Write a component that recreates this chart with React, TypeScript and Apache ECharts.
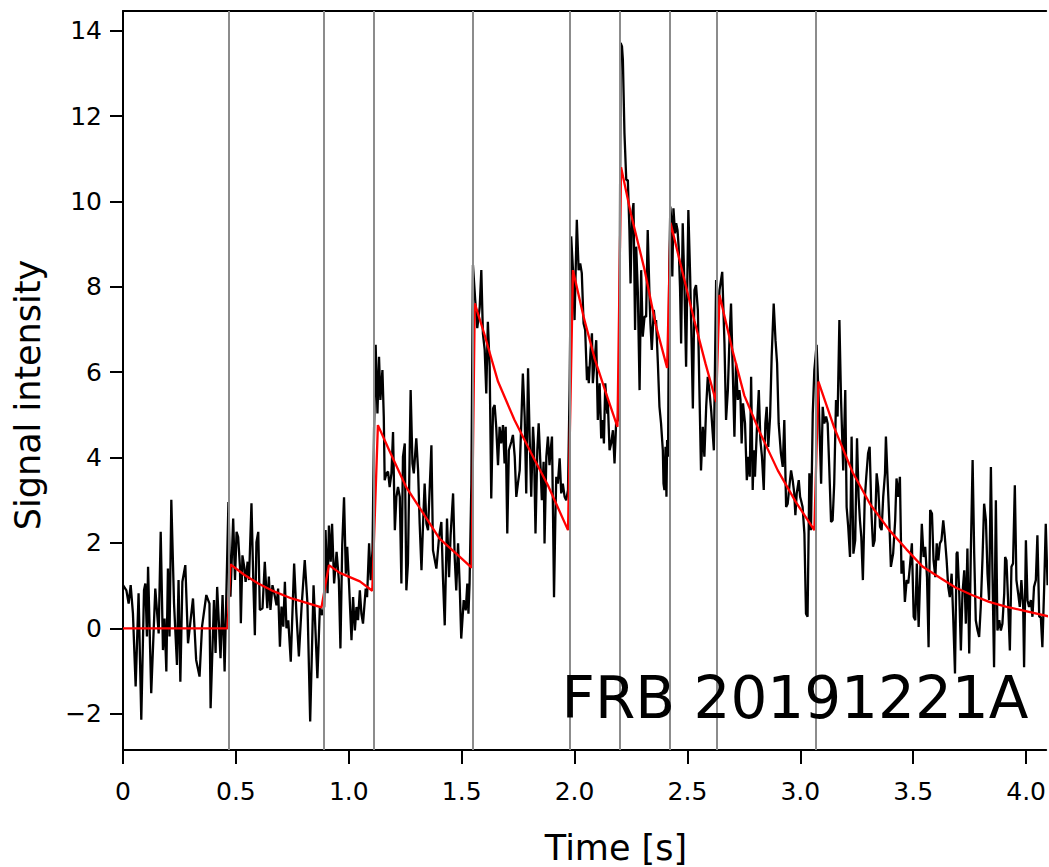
import React, { useEffect, useRef } from "react";
import * as echarts from "echarts";

// Burst (component) arrival times, s
const burstTimes = [0.465, 0.894, 1.115, 1.549, 1.982, 2.199, 2.416, 2.633, 3.071];

const xTicks = [0, 0.5, 1.0, 1.5, 2.0, 2.5, 3.0, 3.5, 4.0];
const yTicks = [-2, 0, 2, 4, 6, 8, 10, 12, 14];

// Observed signal [time s, intensity]
const signal: [number, number][] = [
  [0.000,1.01],[0.015,0.89],[0.025,0.58],[0.034,1.01],[0.044,0.35],[0.056,-1.36],[0.069,0.82],[0.081,-2.14],[0.093,0.89],[0.099,1.05],
  [0.106,-0.19],[0.111,1.44],[0.125,-1.52],[0.143,0.93],[0.158,-0.12],[0.167,2.26],[0.177,-0.51],[0.184,0.23],[0.192,-1.01],[0.199,1.40],
  [0.206,-0.19],[0.214,3.01],[0.226,0.58],[0.239,-0.86],[0.246,1.13],[0.254,-1.25],[0.263,1.09],[0.276,1.48],[0.288,-0.35],[0.310,0.70],
  [0.324,-0.74],[0.339,-1.13],[0.350,0.04],[0.369,0.78],[0.383,0.58],[0.388,-1.87],[0.403,0.66],[0.410,-0.58],[0.417,0.97],[0.432,-0.70],
  [0.441,0.78],[0.450,-1.01],[0.467,2.96],
  [0.476,0.74],[0.488,2.57],[0.496,1.13],[0.503,2.26],[0.510,2.14],[0.518,1.44],[0.522,0.12],[0.529,1.71],[0.537,1.44],[0.543,1.09],
  [0.552,1.56],[0.558,1.13],[0.569,2.93],[0.577,1.13],[0.584,-0.16],[0.591,2.02],[0.599,2.26],[0.606,0.43],[0.618,0.47],[0.628,1.56],
  [0.639,0.47],[0.646,1.21],[0.653,0.43],[0.662,1.01],[0.673,0.74],[0.680,0.54],[0.687,0.93],[0.695,-0.43],[0.702,0.51],[0.710,0.04],
  [0.717,1.09],[0.724,0.00],[0.732,0.19],[0.743,-0.78],[0.758,1.52],[0.768,0.35],[0.779,-0.66],[0.791,0.51],[0.805,1.60],[0.817,0.58],
  [0.829,-2.18],[0.844,1.01],[0.853,-0.12],[0.861,-1.17],[0.872,0.51],[0.882,0.31],[0.891,0.51],[0.897,2.30],[0.906,0.82],[0.912,2.41],
  [0.920,1.56],[0.926,2.45],[0.935,1.05],[0.946,1.79],[0.956,1.13],[0.963,-0.47],[0.971,1.95],[0.979,3.07],
  [0.987,1.28],[0.993,1.91],[1.001,1.05],[1.012,-0.28],[1.019,0.73],[1.027,-0.05],[1.034,0.50],[1.041,0.19],[1.049,0.89],[1.056,0.34],
  [1.063,0.11],[1.075,0.93],[1.081,0.73],[1.090,1.99],[1.097,1.13],[1.105,1.83],[1.112,4.64],[1.119,6.64],[1.127,5.03],[1.134,6.36],
  [1.140,5.35],[1.149,6.05],[1.155,4.96],[1.159,3.47],[1.167,3.63],[1.174,3.67],[1.181,3.31],[1.189,3.63],[1.196,4.60],[1.204,2.30],
  [1.211,3.08],[1.218,3.31],[1.226,3.08],[1.233,1.05],[1.240,4.02],[1.248,4.33],[1.255,0.89],[1.262,1.52],[1.274,5.58],[1.282,3.86],
  [1.288,3.63],[1.299,4.45],[1.307,3.70],[1.314,2.45],[1.322,1.36],[1.329,2.45],[1.336,3.39],[1.344,2.45],[1.351,2.30],[1.366,4.29],
  [1.373,1.83],[1.388,1.40],[1.400,2.14],[1.410,2.49],[1.417,1.20],[1.425,0.07],[1.435,2.57],[1.444,1.20],[1.451,2.18],[1.462,3.16],
  [1.469,1.67],[1.476,0.89],[1.484,1.99],[1.491,1.05],[1.498,-0.24],[1.509,0.66],[1.518,0.42],[1.525,1.05],[1.530,0.34],
  [1.535,1.05],[1.543,3.39],[1.550,8.51],[1.560,7.69],[1.569,7.03],[1.580,7.53],[1.587,8.39],[1.594,6.91],[1.602,6.52],[1.609,5.50],
  [1.616,7.18],[1.624,6.13],[1.631,3.04],[1.639,5.15],[1.646,5.23],[1.653,4.72],[1.661,3.82],[1.668,4.72],[1.675,4.33],[1.683,4.76],
  [1.690,3.86],[1.695,4.72],[1.702,2.22],[1.709,4.17],[1.720,4.37],[1.727,4.53],[1.735,4.02],[1.742,3.08],[1.749,3.39],[1.757,3.70],
  [1.764,4.80],[1.771,5.97],[1.779,4.96],[1.786,3.16],[1.794,6.09],[1.801,4.49],[1.808,3.08],[1.816,4.72],[1.820,4.33],[1.827,2.22],
  [1.835,4.17],[1.841,4.80],[1.850,3.70],[1.855,3.00],[1.863,3.90],[1.867,1.99],[1.875,4.02],[1.882,4.49],[1.889,3.82],[1.894,4.17],
  [1.900,4.49],[1.904,2.92],[1.909,0.73],[1.915,2.61],[1.919,3.55],[1.926,3.39],[1.934,3.98],[1.941,3.16],[1.948,3.39],[1.956,3.08],
  [1.963,3.00],[1.971,3.24],[1.978,5.58],
  [1.985,9.18],[1.993,8.39],[2.000,7.22],[2.010,9.57],[2.018,8.39],[2.025,8.55],[2.032,8.32],[2.040,7.14],[2.047,6.99],[2.055,5.81],
  [2.059,6.13],[2.063,5.74],[2.071,6.52],[2.077,6.91],[2.081,5.74],[2.088,6.21],[2.096,6.75],[2.103,4.88],[2.111,5.74],[2.118,4.45],
  [2.125,4.88],[2.130,4.33],[2.136,5.74],[2.145,5.03],[2.147,5.35],[2.155,4.17],[2.162,4.33],[2.170,4.64],[2.177,3.86],[2.184,4.80],
  [2.192,4.88],[2.199,6.21],[2.204,13.71],[2.210,13.63],[2.214,13.32],[2.221,11.60],[2.229,10.50],[2.236,10.50],[2.243,9.33],[2.248,8.08],
  [2.254,9.64],[2.261,9.96],[2.268,6.99],[2.273,8.94],[2.280,7.93],[2.288,5.58],[2.295,8.39],[2.302,6.83],[2.310,7.30],[2.317,7.30],
  [2.324,9.33],[2.332,7.77],[2.336,7.14],[2.342,6.52],[2.351,7.46],[2.357,7.14],[2.361,7.22],[2.369,6.21],[2.376,5.19],[2.383,4.80],
  [2.391,4.17],[2.394,3.39],[2.398,3.24],[2.403,4.25],[2.407,3.08],[2.410,4.41],[2.414,4.02],
  [2.419,8.20],[2.424,9.88],[2.429,9.53],[2.433,8.24],[2.438,9.84],[2.445,9.25],[2.450,9.49],[2.456,9.33],[2.461,8.94],[2.467,8.00],
  [2.472,6.67],[2.479,9.49],[2.487,7.92],[2.494,6.13],[2.504,9.80],[2.512,8.24],[2.519,6.52],[2.524,5.15],[2.531,7.92],[2.538,8.04],
  [2.546,7.46],[2.553,5.58],[2.560,3.70],[2.568,4.72],[2.575,4.02],[2.583,5.19],[2.590,5.89],[2.597,5.58],[2.605,5.11],[2.617,4.17],
  [2.627,8.16],[2.634,6.99],[2.642,7.92],[2.654,8.35],[2.664,6.67],[2.671,4.88],[2.679,5.58],[2.686,6.75],[2.693,7.61],[2.701,5.97],
  [2.708,4.49],[2.715,6.21],[2.723,5.35],[2.730,5.58],[2.735,5.35],[2.740,4.33],[2.746,5.27],[2.755,4.80],[2.763,3.47],[2.770,4.02],
  [2.776,3.55],[2.782,5.89],[2.789,3.24],[2.794,4.17],[2.799,3.55],[2.808,4.72],[2.816,5.58],[2.823,4.41],[2.830,4.02],[2.838,3.24],
  [2.845,4.80],[2.851,5.19],[2.858,4.25],[2.866,4.96],[2.873,6.36],[2.882,7.61],[2.890,6.75],[2.897,6.21],
  [2.904,4.80],[2.914,4.10],[2.922,3.78],[2.929,4.88],[2.937,2.84],[2.944,2.92],[2.951,3.31],[2.959,3.70],[2.966,3.47],[2.973,3.16],
  [2.978,2.65],[2.984,3.16],[2.993,3.47],[2.999,3.08],[3.003,3.00],[3.010,2.84],[3.018,2.22],[3.025,0.34],[3.032,0.27],[3.040,3.63],
  [3.047,2.30],[3.055,5.03],[3.062,6.05],[3.072,6.64],[3.081,5.42],[3.092,3.39],[3.099,5.19],[3.106,4.80],[3.114,4.96],[3.121,4.80],
  [3.128,3.78],[3.136,2.49],[3.143,2.53],[3.150,3.39],[3.158,5.35],[3.165,4.96],[3.173,7.22],[3.180,5.42],[3.184,4.72],[3.190,3.70],
  [3.199,5.58],[3.205,2.84],[3.212,2.38],[3.220,1.67],[3.227,4.49],[3.235,1.75],[3.243,2.06],[3.251,4.45],[3.258,3.08],[3.264,2.53],
  [3.270,2.14],[3.277,1.13],[3.285,3.00],[3.292,3.55],[3.300,4.10],[3.307,4.25],[3.315,2.69],[3.322,1.91],[3.329,2.06],[3.338,3.63],
  [3.345,3.31],[3.353,2.38],[3.360,2.30],[3.367,3.08],[3.375,3.63],[3.379,4.49],[3.386,3.55],[3.394,2.53],[3.401,1.44],
  [3.411,1.75],[3.420,2.53],[3.426,3.51],[3.434,3.08],[3.441,3.55],[3.448,1.28],[3.456,1.59],[3.463,0.62],[3.471,1.13],[3.478,1.05],
  [3.485,1.44],[3.494,1.99],[3.502,0.27],[3.509,0.19],[3.516,1.52],[3.524,0.03],[3.531,1.28],[3.538,2.45],[3.546,1.67],[3.553,1.91],
  [3.561,1.20],[3.568,-0.44],[3.575,2.77],[3.583,2.69],[3.590,1.59],[3.598,1.20],[3.604,1.99],[3.611,1.59],[3.618,1.99],[3.625,2.06],
  [3.633,2.53],[3.640,2.14],[3.648,1.59],[3.655,0.97],[3.662,0.73],[3.670,1.28],[3.677,0.27],[3.685,-1.06],[3.692,1.75],[3.696,1.79],
  [3.704,0.81],[3.711,-0.52],[3.718,0.81],[3.726,1.36],[3.733,0.11],[3.740,1.87],[3.748,-0.59],[3.755,1.75],[3.763,3.94],[3.770,1.75],
  [3.777,0.19],[3.785,-0.05],[3.792,-0.20],[3.799,0.50],[3.807,1.67],[3.814,2.92],[3.822,2.53],[3.829,1.28],[3.836,0.66],[3.844,3.78],
  [3.851,1.28],[3.858,-0.91],[3.866,3.00],[3.873,-0.05],[3.881,0.19],[3.888,-0.05],[3.895,0.11],[3.903,0.81],[3.907,1.67],[3.913,1.59],
  [3.920,0.66],[3.928,-0.52],[3.935,1.44],[3.942,1.52],[3.950,3.35],[3.957,1.13],[3.965,0.81],[3.972,0.50],[3.979,1.13],[3.987,0.50],
  [3.991,-0.91],[3.999,2.06],[4.006,0.66],[4.013,0.50],[4.021,0.66],[4.028,0.27],[4.035,0.97],[4.043,1.13],[4.050,2.18],[4.058,0.27],
  [4.065,0.27],[4.072,-0.44],[4.080,0.97],[4.087,2.45],[4.095,1.01],[4.099,1.13],
];

// Fitted model [time s, intensity]
const model: [number, number][] = [
  [0,0],[0.463,0],[0.476,1.50],[0.535,1.26],[0.599,1.05],[0.658,0.89],[0.747,0.70],[0.879,0.49],
  [0.912,1.48],[0.96,1.30],[1.049,1.10],[1.104,0.88],
  [1.129,4.76],[1.181,4.15],[1.255,3.30],[1.329,2.70],[1.402,2.10],[1.476,1.75],[1.544,1.42],
  [1.558,7.61],[1.60,6.90],[1.661,5.78],[1.734,4.88],[1.808,4.10],[1.882,3.35],[1.971,2.30],
  [1.993,8.39],[2.04,7.30],[2.09,6.30],[2.14,5.50],[2.19,4.72],
  [2.206,10.80],[2.25,9.70],[2.31,8.40],[2.36,7.10],[2.41,6.10],
  [2.425,9.50],[2.48,8.30],[2.531,7.20],[2.58,6.20],[2.627,5.30],
  [2.642,7.81],[2.70,6.50],[2.752,5.45],[2.82,4.60],[2.90,3.70],[2.981,2.95],[3.062,2.30],
  [3.080,5.78],[3.15,4.70],[3.232,3.65],[3.31,2.90],[3.394,2.30],[3.47,1.85],[3.541,1.45],[3.62,1.18],
  [3.689,0.95],[3.76,0.78],[3.836,0.62],[3.91,0.51],[3.984,0.42],[4.099,0.28],
];

const X_MIN = 0;
const X_MAX = 4.089;
const Y_MIN = -2.85;
const Y_MAX = 14.46;

const tickFont = "DejaVu Sans";

export default function App() {
  const ref = useRef<HTMLDivElement>(null);

  useEffect(() => {
    if (!ref.current) return;
    const chart = echarts.init(ref.current, undefined, { renderer: "svg" });
    const option: any = {
      animation: false,
      backgroundColor: "#ffffff",
      grid: { left: 123, right: 0, top: 11, bottom: 117, containLabel: false },
      xAxis: [
        {
          type: "value",
          min: X_MIN,
          max: X_MAX,
          position: "bottom",
          axisLine: { show: true, onZero: false, lineStyle: { color: "#000", width: 2 } },
          axisTick: { show: true, inside: false, length: 14, customValues: xTicks, lineStyle: { color: "#000", width: 2 } },
          axisLabel: {
            show: true,
            customValues: xTicks,
            margin: 29,
            color: "#000",
            fontSize: 25,
            fontFamily: tickFont,
            formatter: (v: number) => (v === 0 ? "0" : v.toFixed(1)),
          },
          splitLine: { show: false },
        },
        {
          type: "value",
          min: X_MIN,
          max: X_MAX,
          position: "top",
          axisLine: { show: true, onZero: false, lineStyle: { color: "#000", width: 2 } },
          axisTick: { show: false },
          axisLabel: { show: false },
          splitLine: { show: false },
        },
      ],
      yAxis: {
        type: "value",
        min: Y_MIN,
        max: Y_MAX,
        axisLine: { show: true, onZero: false, lineStyle: { color: "#000", width: 2 } },
        axisTick: { show: true, inside: false, length: 13, customValues: yTicks, lineStyle: { color: "#000", width: 2 } },
        axisLabel: {
          show: true,
          customValues: yTicks,
          margin: 21,
          color: "#000",
          fontSize: 25,
          fontFamily: tickFont,
          formatter: (v: number) => (v < 0 ? "\u2212" + Math.abs(v) : String(v)),
        },
        splitLine: { show: false },
      },
      series: [
        {
          type: "line",
          name: "bursts",
          xAxisIndex: 0,
          data: [],
          z: 1,
          markLine: {
            silent: true,
            symbol: ["none", "none"],
            label: { show: false },
            lineStyle: { color: "#8c8c8c", width: 2, type: "solid" },
            data: burstTimes.map((t) => ({ xAxis: t })),
          },
        },
        {
          type: "line",
          name: "signal",
          xAxisIndex: 0,
          data: signal,
          showSymbol: false,
          symbol: "none",
          lineStyle: { color: "#000000", width: 2.3 },
          z: 2,
        },
        {
          type: "line",
          name: "model",
          xAxisIndex: 0,
          data: model,
          showSymbol: false,
          symbol: "none",
          lineStyle: { color: "#ff0000", width: 2.3 },
          z: 3,
        },
      ],
      graphic: [
        {
          type: "text",
          x: 28,
          y: 395,
          rotation: Math.PI / 2,
          style: {
            text: "Signal intensity",
            fontSize: 35,
            fontFamily: "DejaVu Sans",
            fill: "#000",
            align: "center",
            verticalAlign: "middle",
          },
        },
        {
          type: "text",
          x: 616,
          y: 848,
          style: {
            text: "Time [s]",
            fontSize: 35,
            fontFamily: "DejaVu Sans",
            fill: "#000",
            align: "center",
            verticalAlign: "middle",
          },
        },
        {
          type: "text",
          x: 795,
          y: 698,
          z: 10,
          style: {
            text: "FRB 20191221A",
            fontSize: 58,
            fontFamily: "DejaVu Sans",
            fill: "#000",
            align: "center",
            verticalAlign: "middle",
          },
        },
      ],
    };
    chart.setOption(option);
    return () => chart.dispose();
  }, []);

  return (
    <div
      ref={ref}
      style={{ position: "absolute", left: 0, top: 0, width: 1049, height: 867 }}
    />
  );
}
